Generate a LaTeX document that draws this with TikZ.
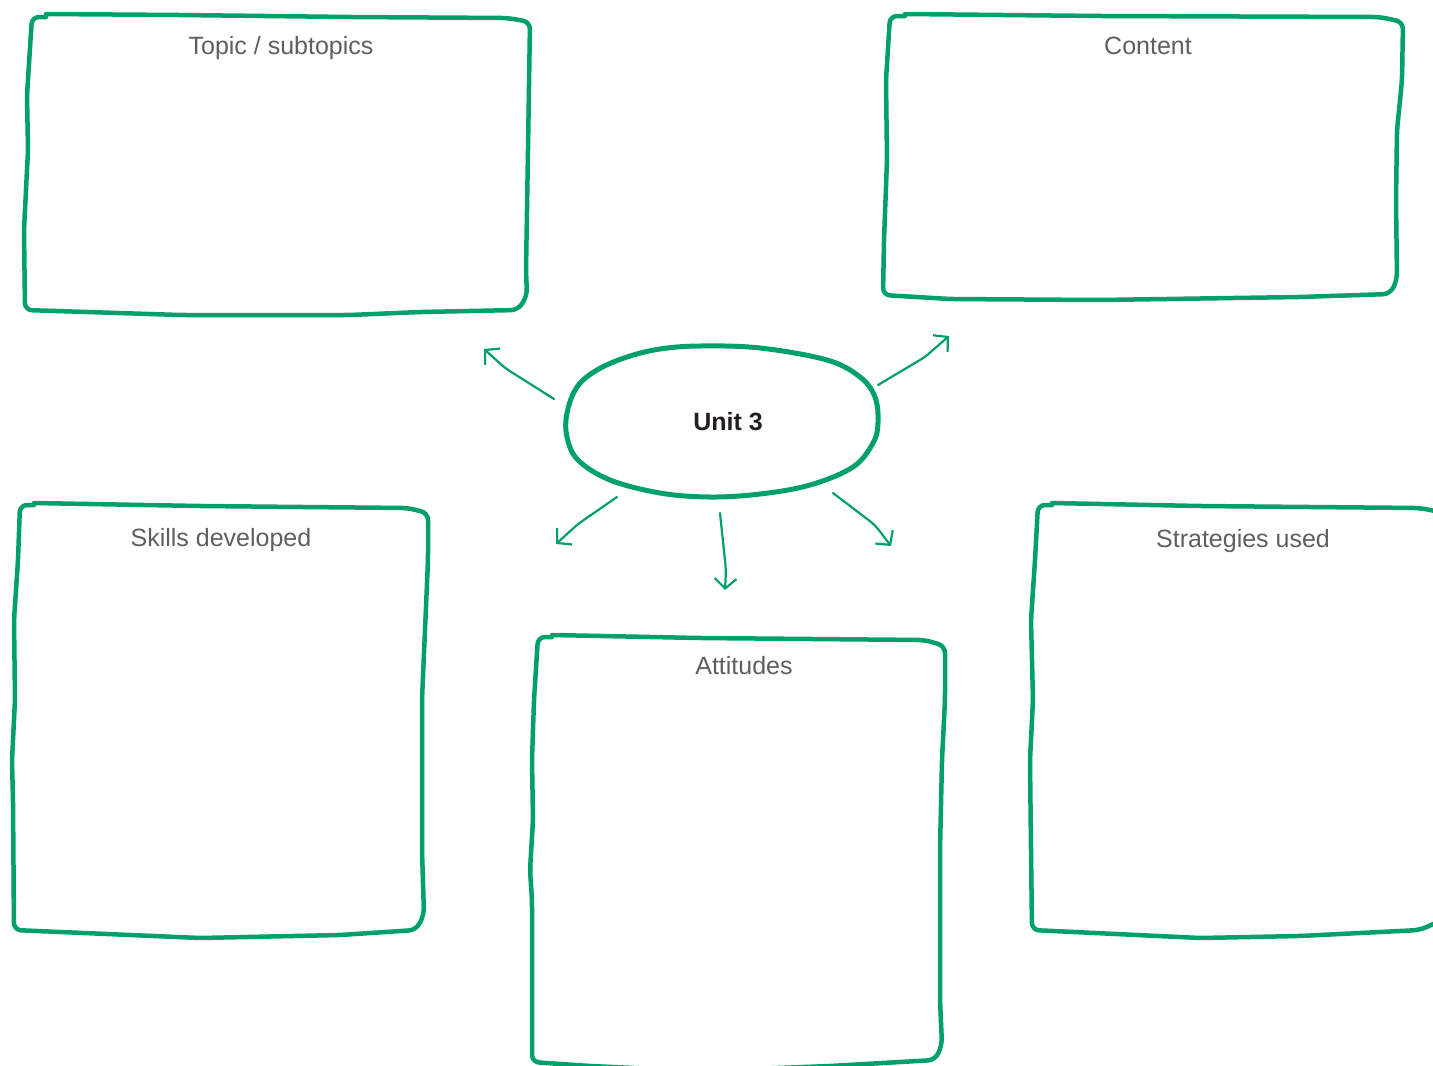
\documentclass[tikz,border=0pt]{standalone}
\usepackage{fontspec}
\setmainfont{Liberation Sans}
\usetikzlibrary{shapes.geometric,arrows.meta}
\definecolor{grn}{RGB}{0,161,104}
\definecolor{lbl}{RGB}{95,95,95}
\definecolor{ink}{RGB}{35,31,32}
\tikzset{
  boxline/.style={draw=grn, line width=4.5pt, rounded corners=7pt, line join=round, line cap=round},
  arrowline/.style={draw=grn, line width=2.2pt, rounded corners=6pt, line cap=round,
    -{Straight Barb[length=10pt,width=22pt,line width=2.2pt]}},
  boxlabel/.style={font=\fontsize{25}{28}\selectfont, text=lbl, inner sep=0pt, anchor=base},
}
\begin{document}
\begin{tikzpicture}[x=1pt,y=-1pt]
\useasboundingbox (0,0) rectangle (1433,1066);
\clip (0,0) rectangle (1433,1066);
\fill[white] (0,0) rectangle (1433,1066);

% Topic / subtopics box
\draw[boxline] (46,14) -- (180,15) -- (350,17) -- (508,18) -- (530,22) -- (528,150) -- (526,270) -- (527,296) -- (518,310) -- (420,312) -- (350,315) -- (180,315) -- (25,310) -- (24,230) -- (28,150) -- (27,95) -- (32,17) -- (46,17);
\node[boxlabel] (topic) at (281,54) {Topic / subtopics};

% Content box
\draw[boxline] (905,14) -- (1100,16) -- (1380,17) -- (1403,22) -- (1402,80) -- (1397,130) -- (1396,200) -- (1397,280) -- (1390,294) -- (1300,297) -- (1100,300) -- (950,299) -- (883,295) -- (884,240) -- (887,160) -- (886,80) -- (890,16) -- (905,16);
\node[boxlabel] (content) at (1148,54) {Content};

% Skills developed box
\draw[boxline] (34,503) -- (200,506) -- (408,508) -- (428,513) -- (428,560) -- (425,630) -- (422,700) -- (422,850) -- (424,915) -- (416,930) -- (340,935) -- (200,938) -- (14,930) -- (13,800) -- (12,760) -- (15,700) -- (14,620) -- (18,560) -- (20,505) -- (34,505);
\node[boxlabel] (skills) at (221,546) {Skills developed};

% Attitudes box
\draw[boxline] (552,635) -- (700,638) -- (925,640) -- (945,646) -- (945,700) -- (942,760) -- (940,850) -- (940,1000) -- (942,1045) -- (935,1060) -- (830,1066) -- (700,1071) -- (590,1066) -- (532,1062) -- (532,900) -- (530,870) -- (533,820) -- (532,760) -- (534,700) -- (538,637) -- (552,637);
\node[boxlabel] (attitudes) at (744,674) {Attitudes};

% Strategies used box
\draw[boxline] (1052,503) -- (1200,506) -- (1420,508) -- (1440,512) -- (1442,920) -- (1420,930) -- (1300,936) -- (1200,938) -- (1032,930) -- (1031,850) -- (1030,760) -- (1033,700) -- (1031,620) -- (1035,560) -- (1038,505) -- (1052,505);
\node[boxlabel] (strategies) at (1243,547) {Strategies used};

% Central hand-drawn ellipse
\node[ellipse, minimum width=309pt, minimum height=147pt, inner sep=0pt] (unit) at (722,422) {};
\draw[draw=grn, line width=5pt] plot[smooth cycle, tension=0.6] coordinates {
  (700,346) (760,348) (827,360) (860,377) (875,397) (878,423) (873,443)
  (853,467) (810,485) (760,494) (710,497) (660,493) (610,480) (578,460)
  (567,437) (567,413) (577,387) (597,370) (627,357) (660,349)};
\node[font=\fontsize{25}{28}\selectfont\bfseries, text=ink, inner sep=0pt] (unitlabel) at (728,422) {Unit 3};

% Arrows
\coordinate (a1s) at (554,399); \coordinate (a1m) at (505,368); \coordinate (a1e) at (484,349);
\coordinate (a2s) at (878,385); \coordinate (a2m) at (925,357); \coordinate (a2e) at (949,336);
\coordinate (a3s) at (617,497); \coordinate (a3m) at (578,524); \coordinate (a3e) at (556,544);
\coordinate (a4s) at (720,513); \coordinate (a4m) at (726,570); \coordinate (a4e) at (725,590);
\coordinate (a5s) at (833,493); \coordinate (a5m) at (875,525); \coordinate (a5e) at (891,546);
\draw[arrowline] (a1s) -- (a1m) -- (a1e);
\draw[arrowline] (a2s) -- (a2m) -- (a2e);
\draw[arrowline] (a3s) -- (a3m) -- (a3e);
\draw[arrowline] (a4s) -- (a4m) -- (a4e);
\draw[arrowline] (a5s) -- (a5m) -- (a5e);
\end{tikzpicture}
\end{document}
